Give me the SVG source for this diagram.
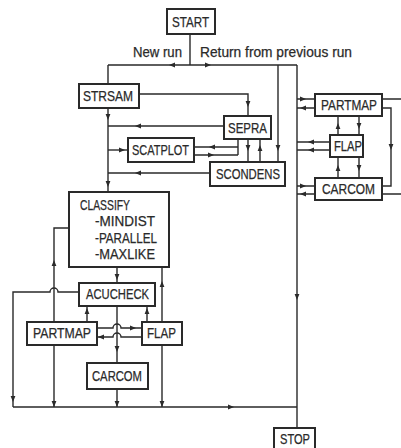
<svg xmlns="http://www.w3.org/2000/svg" xmlns:xlink="http://www.w3.org/1999/xlink" width="401" height="448" viewBox="0 0 401 448">
<style>
.bx{fill:#fff;stroke:#2a2a2a;stroke-width:2}
.ln{fill:none;stroke:#2a2a2a;stroke-width:1.4}
text{font-family:"Liberation Sans",Arial,sans-serif;font-size:14px;fill:#2a2a2a;stroke:#2a2a2a;stroke-width:0.25}
.ah{fill:#2a2a2a}
</style>
<defs>
<path id="a" class="ah" d="M3,0 L-3,-2.4 L-3,2.4 Z"/>
</defs>
<rect width="401" height="448" fill="#fff"/>
<g id="connectors">
<path class="ln" d="M190,34 V65 M108,65 H297 M108,65 V84 M108,108 V192"/>
<path class="ln" d="M278,65 V162 M297,65 V428"/>
<path class="ln" d="M139,94 H248 V116"/>
<path class="ln" d="M224,126 H108"/>
<path class="ln" d="M108,150 H128"/>
<path class="ln" d="M210,173 H108"/>
<path class="ln" d="M238,139 V155 M238,147 H194 M238,155 H194"/>
<path class="ln" d="M248,139 V162 M260,139 V162"/>
<path class="ln" d="M297,99 H315 M297,108 H315 M297,142 H330 M297,150 H330 M297,186 H315 M297,194 H315"/>
<path class="ln" d="M338,116 V135 M359,116 V135 M338,157 V178 M359,157 V178"/>
<path class="ln" d="M382,99 H401 M382,108 H391 V186 H382 M382,194 H401"/>
<path class="ln" d="M117,267 V283 M162,267 V322 M69,228 H54 V322"/>
<path class="ln" d="M79,292 H58 A4,4 0 0 0 50,292 H13 V407"/>
<path class="ln" d="M87,306 V322 M147,306 V322 M117,306 V363"/>
<path class="ln" d="M97,328 H113 A4,4 0 0 1 121,328 H142 M97,337 H113 A4,4 0 0 1 121,337 H142"/>
<path class="ln" d="M54,345 V407 M117,389 V407 M162,345 V407 M13,407 H297"/>
<use xlink:href="#a" transform="translate(172,65) rotate(180)"/>
<use xlink:href="#a" transform="translate(208,65)"/>
<use xlink:href="#a" transform="translate(108,117) rotate(90)"/>
<use xlink:href="#a" transform="translate(108,184) rotate(90)"/>
<use xlink:href="#a" transform="translate(248,104) rotate(90)"/>
<use xlink:href="#a" transform="translate(138,126) rotate(180)"/>
<use xlink:href="#a" transform="translate(122,150)"/>
<use xlink:href="#a" transform="translate(138,173) rotate(180)"/>
<use xlink:href="#a" transform="translate(212,147) rotate(180)"/>
<use xlink:href="#a" transform="translate(211,155)"/>
<use xlink:href="#a" transform="translate(248,148) rotate(90)"/>
<use xlink:href="#a" transform="translate(260,148) rotate(-90)"/>
<use xlink:href="#a" transform="translate(278,148) rotate(90)"/>
<use xlink:href="#a" transform="translate(297,297) rotate(90)"/>
<use xlink:href="#a" transform="translate(303,99)"/>
<use xlink:href="#a" transform="translate(303,108) rotate(180)"/>
<use xlink:href="#a" transform="translate(311,142) rotate(180)"/>
<use xlink:href="#a" transform="translate(311,150) rotate(180)"/>
<use xlink:href="#a" transform="translate(303,186)"/>
<use xlink:href="#a" transform="translate(303,194) rotate(180)"/>
<use xlink:href="#a" transform="translate(338,126) rotate(-90)"/>
<use xlink:href="#a" transform="translate(359,126) rotate(90)"/>
<use xlink:href="#a" transform="translate(338,168) rotate(-90)"/>
<use xlink:href="#a" transform="translate(359,168) rotate(90)"/>
<use xlink:href="#a" transform="translate(391,147) rotate(90)"/>
<use xlink:href="#a" transform="translate(117,277) rotate(90)"/>
<use xlink:href="#a" transform="translate(162,284) rotate(-90)"/>
<use xlink:href="#a" transform="translate(54,263) rotate(-90)"/>
<use xlink:href="#a" transform="translate(87,311) rotate(-90)"/>
<use xlink:href="#a" transform="translate(147,311) rotate(-90)"/>
<use xlink:href="#a" transform="translate(117,349) rotate(90)"/>
<use xlink:href="#a" transform="translate(133,328)"/>
<use xlink:href="#a" transform="translate(101,337) rotate(180)"/>
<use xlink:href="#a" transform="translate(13,399) rotate(90)"/>
<use xlink:href="#a" transform="translate(54,404) rotate(90)"/>
<use xlink:href="#a" transform="translate(117,404) rotate(90)"/>
<use xlink:href="#a" transform="translate(162,404) rotate(90)"/>
<use xlink:href="#a" transform="translate(231,407)"/>
</g>
<g id="labels">
<text x="133" y="57" textLength="49" lengthAdjust="spacingAndGlyphs">New run</text>
<text x="200" y="57" textLength="152" lengthAdjust="spacingAndGlyphs">Return from previous run</text>
</g>
<g id="start"><rect class="bx" x="167" y="9" width="48" height="25"/><text x="172" y="27" textLength="37" lengthAdjust="spacingAndGlyphs">START</text></g>
<g id="strsam"><rect class="bx" x="79" y="84" width="60" height="24"/><text x="83" y="101" textLength="50" lengthAdjust="spacingAndGlyphs">STRSAM</text></g>
<g id="sepra"><rect class="bx" x="224" y="116" width="47" height="23"/><text x="228" y="133" textLength="39" lengthAdjust="spacingAndGlyphs">SEPRA</text></g>
<g id="scatplot"><rect class="bx" x="128" y="138" width="66" height="24"/><text x="132" y="155" textLength="57" lengthAdjust="spacingAndGlyphs">SCATPLOT</text></g>
<g id="scondens"><rect class="bx" x="210" y="162" width="75" height="24"/><text x="216" y="179" textLength="64" lengthAdjust="spacingAndGlyphs">SCONDENS</text></g>
<g id="partmap-r"><rect class="bx" x="315" y="94" width="67" height="22"/><text x="321" y="110" textLength="56" lengthAdjust="spacingAndGlyphs">PARTMAP</text></g>
<g id="flap-r"><rect class="bx" x="330" y="135" width="33" height="22"/><text x="334" y="151" textLength="28" lengthAdjust="spacingAndGlyphs">FLAP</text></g>
<g id="carcom-r"><rect class="bx" x="315" y="178" width="67" height="22"/><text x="322" y="194" textLength="53" lengthAdjust="spacingAndGlyphs">CARCOM</text></g>
<g id="classify"><rect class="bx" x="69" y="192" width="100" height="75"/>
<text x="80" y="210" textLength="50" lengthAdjust="spacingAndGlyphs">CLASSIFY</text>
<text x="95" y="226" textLength="60" lengthAdjust="spacingAndGlyphs">-MINDIST</text>
<text x="95" y="243" textLength="62" lengthAdjust="spacingAndGlyphs">-PARALLEL</text>
<text x="95" y="259" textLength="60" lengthAdjust="spacingAndGlyphs">-MAXLIKE</text></g>
<g id="acucheck"><rect class="bx" x="79" y="283" width="76" height="23"/><text x="86" y="299" textLength="63" lengthAdjust="spacingAndGlyphs">ACUCHECK</text></g>
<g id="partmap-l"><rect class="bx" x="27" y="322" width="70" height="23"/><text x="33" y="338" textLength="58" lengthAdjust="spacingAndGlyphs">PARTMAP</text></g>
<g id="flap-l"><rect class="bx" x="142" y="322" width="40" height="23"/><text x="147" y="338" textLength="29" lengthAdjust="spacingAndGlyphs">FLAP</text></g>
<g id="carcom-l"><rect class="bx" x="87" y="363" width="61" height="26"/><text x="92" y="381" textLength="50" lengthAdjust="spacingAndGlyphs">CARCOM</text></g>
<g id="stop"><rect class="bx" x="274" y="428" width="41" height="22"/><text x="280" y="444" textLength="30" lengthAdjust="spacingAndGlyphs">STOP</text></g>
</svg>
